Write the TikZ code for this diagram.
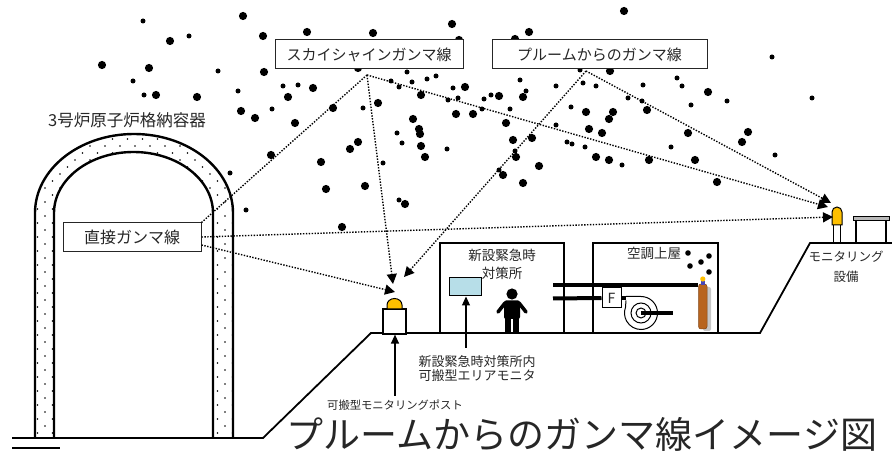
\documentclass[tikz,border=0pt]{standalone}
\usepackage{fontspec}
\newfontfamily\jp{Noto Sans CJK JP}
\usetikzlibrary{arrows.meta,patterns}
\definecolor{domeyellow}{HTML}{FFC000}
\definecolor{monblue}{HTML}{B7DEE8}
\definecolor{cylbrown}{HTML}{B8641E}
\definecolor{ink}{HTML}{262626}
% staggered dots for the concrete shell
\pgfdeclarepatternformonly{walldots}{\pgfqpoint{-1pt}{-1pt}}{\pgfqpoint{14pt}{13pt}}{\pgfqpoint{15pt}{14pt}}{%
  \pgfpathcircle{\pgfqpoint{0pt}{0pt}}{0.9pt}%
  \pgfpathcircle{\pgfqpoint{7.5pt}{7pt}}{0.9pt}%
  \pgfusepath{fill}}
\tikzset{
  shell/.style={line width=2.4pt},
  bldg/.style={line width=2.6pt},
  lbox/.style={draw=black!85, line width=1pt, fill=white, inner sep=0pt, text=ink,
    font=\jp\fontsize{15}{15}\selectfont},
  txt/.style={inner sep=0pt, text=ink, font=\jp\fontsize{#1}{#1}\selectfont},
  ray/.style={line width=1.4pt, dash pattern=on 1.4pt off 1.5pt},
  rayarrow/.style={ray, -{Triangle[length=10pt,width=10pt]}},
  callout/.style={line width=1.2pt, -{Triangle[length=9pt,width=8pt]}},
  duct/.style={line width=4pt},
}
\begin{document}
\begin{tikzpicture}[x=1pt,y=-1pt]
\useasboundingbox (0,0) rectangle (892,454);

% ---- plume particles ----
\foreach \x/\y in {243/16,170/41,263/36,102/65,149/68,264/72,156/95,197/97,241/111,255/118,
  288/97,295/123,307/32,373/33,452/24,313/88,421/95,465/87,499/96,506/123,513/140,516/157,
  456/114,473/114,333/108,378/103,413/119,419/129,420/134,421/146,425/157,358/142,350/149,
  271/155,321/162,326/189,365/186,503/175,342/227,405/204,624/11,529/32,515/39,610/71,708/92,
  647/110,523/97,586/112,613/112,609/119,589/129,602/133,532/138,596/157,609/160,649/160,
  688/133,695/160,748/132,742/142,539/166,523/183,717/182,358/68,459/40}
  \fill (\x,\y) circle[radius=4.1pt];
\foreach \x/\y in {143/21,189/36,133/81,218/71,144/95,238/91,272/109,283/86,298/85,407/72,
  391/81,399/87,412/82,427/79,436/76,453/88,458/98,484/99,491/95,510/109,448/100,482/109,
  363/108,397/133,402/143,447/149,230/173,383/163,246/210,399/200,499/170,515/151,772/57,
  812/98,580/70,520/80,556/86,583/83,596/86,643/85,677/78,682/86,727/101,628/98,642/101,
  691/105,526/91,571/107,556/125,567/142,572/144,585/147,622/165,671/147,775/155}
  \fill (\x,\y) circle[radius=2.5pt];

% ---- reactor containment vessel ----
\fill[pattern=walldots, even odd rule]
  (35,438) -- (35,213) arc[start angle=180,end angle=360,x radius=99,y radius=79] -- (233,438) -- cycle
  (54,438) -- (54,213) arc[start angle=180,end angle=360,x radius=79.5,y radius=61] -- (213,438) -- cycle;
\draw[shell] (35,438) -- (35,213) arc[start angle=180,end angle=360,x radius=99,y radius=79] -- (233,438);
\draw[shell] (54,438) -- (54,213) arc[start angle=180,end angle=360,x radius=79.5,y radius=61] -- (213,438);
\node[txt=16.5] (cv) at (127,120) {3号炉原子炉格納容器};

% ---- ground profile ----
\draw[line width=1.8pt] (12,438) -- (263,438) -- (371,333) -- (760,333) -- (810,243) -- (892,243);
\draw[line width=1.8pt] (12,448) -- (60,448);

% ---- emergency response building ----
\draw[bldg] (440,243) rectangle (564,333);
\node[txt=13.5] (erc1) at (502,255) {新設緊急時};
\node[txt=13.5] (erc2) at (502,273) {対策所};
\node[draw, line width=1pt, fill=monblue, minimum width=32, minimum height=18] (amon) at (465,287) {};
% person
\fill (512,294) circle[radius=5.6pt];
\fill[rounded corners=2pt] (504,300.5) rectangle (520,319);
\draw[line width=3.6pt, line cap=round] (505,303) -- (498,312);
\draw[line width=3.6pt, line cap=round] (519,303) -- (526,312);
\fill (505,316) rectangle (511,333);
\fill (513,316) rectangle (519,333);

% ---- air-conditioning building ----
\draw[bldg] (593,243) rectangle (718,333);
\node[txt=13.5] (ac) at (654,253) {空調上屋};
\foreach \x/\y in {688/253,709/256,701/262,690/266,709/272}
  \fill (\x,\y) circle[radius=2.8pt];
\node[draw, line width=1pt, fill=white, minimum width=19, minimum height=20, inner sep=0pt,
  text=ink, font=\jp\fontsize{14}{14}\selectfont] (filt) at (611.5,298) {F};
\draw[duct] (553,285) -- (698,285);
\draw[duct] (553,298.5) -- (filt.west);
% blower
\fill (filt.east |- 0,296.5) rectangle (626,300.5);
\draw[line width=1pt] (626,296.5) -- (641,296.5)
  arc[start angle=270,end angle=560,radius=16.5] -- (626,300.5);
\draw[line width=1pt] (641,313) circle[radius=10pt];
\draw[line width=1pt] (641,313) circle[radius=5pt];
\draw[line width=3.6pt] (641,313) -- (673,313);
% gas cylinder
\fill[gray!45, rounded corners=2pt] (703,287) rectangle (711,331);
\filldraw[fill=cylbrown, draw=cylbrown!70!black, line width=0.5pt, rounded corners=2.5pt]
  (698.5,284) rectangle (707,329);
\fill[blue!45!gray] (700.5,281.5) rectangle (705,285);
\fill[domeyellow] (702.8,279) circle[radius=2.6pt];

% ---- portable monitoring post ----
\node[draw, line width=1.2pt, fill=white, minimum width=23, minimum height=25] (post) at (394.5,321.5) {};
\filldraw[fill=domeyellow, line width=1pt] (387,309) -- (387,305)
  arc[start angle=180,end angle=360,x radius=7.5,y radius=6.5] -- (402,309) -- cycle;

% ---- monitoring station ----
\filldraw[fill=white, line width=1pt] (833,225) rectangle (840,243);
\filldraw[fill=domeyellow, line width=1pt] (832,225) -- (832,212)
  arc[start angle=180,end angle=360,radius=5] -- (842,225) -- cycle;
\filldraw[fill=gray!55, line width=0.9pt] (853,216) rectangle (889,220);
\draw[line width=2pt] (856,220) -- (856,243);
\draw[line width=2pt] (886,220) -- (886,243);
\node[txt=12.5] (ms1) at (846,257) {モニタリング};
\node[txt=12.5] (ms2) at (846,277) {設備};

% ---- radiation labels ----
\node[lbox, minimum width=188, minimum height=29] (sky) at (369,54.5) {スカイシャインガンマ線};
\node[lbox, minimum width=215, minimum height=29] (plume) at (599.5,54.5) {プルームからのガンマ線};
\node[lbox, minimum width=138, minimum height=29, font=\jp\fontsize{16}{16}\selectfont] (direct) at (132,237.5) {直接ガンマ線};

\coordinate (skysrc) at (367,75);
\coordinate (plumesrc) at (586,71);
\coordinate (dirA) at ([yshift=0.5pt]direct.east);
\coordinate (dirB) at ([yshift=-7.5pt]direct.east);
\coordinate (postsky) at (393,284);
\coordinate (postplume) at (404,277);
\coordinate (postdir) at (395,292);
\coordinate (monsky) at (828,207);
\coordinate (monplume) at (831,203);
\coordinate (mondir) at (833,217);

\draw[ray] (skysrc) -- (direct.north east);
\draw[rayarrow] (skysrc) -- (postsky);
\draw[rayarrow] (skysrc) -- (monsky);
\draw[rayarrow] (plumesrc) -- (postplume);
\draw[rayarrow] (plumesrc) -- (monplume);
\draw[rayarrow] (dirA) -- (mondir);
\draw[rayarrow] (dirB) -- (postdir);

% ---- callouts ----
\node[txt=13, align=center] (amlbl) at (477,369) {新設緊急時対策所内\\[1pt]可搬型エリアモニタ};
\coordinate (amfoot) at (466,348);
\draw[callout] (amfoot) -- (amon.south -| amfoot);
\node[txt=11.3] (postlbl) at (395,405) {可搬型モニタリングポスト};
\coordinate (postfoot) at (395,396);
\draw[callout] (postfoot) -- (post.south -| postfoot);

% ---- title ----
\node[txt=37] (title) at (582,434) {プルームからのガンマ線イメージ図};
\end{tikzpicture}
\end{document}
